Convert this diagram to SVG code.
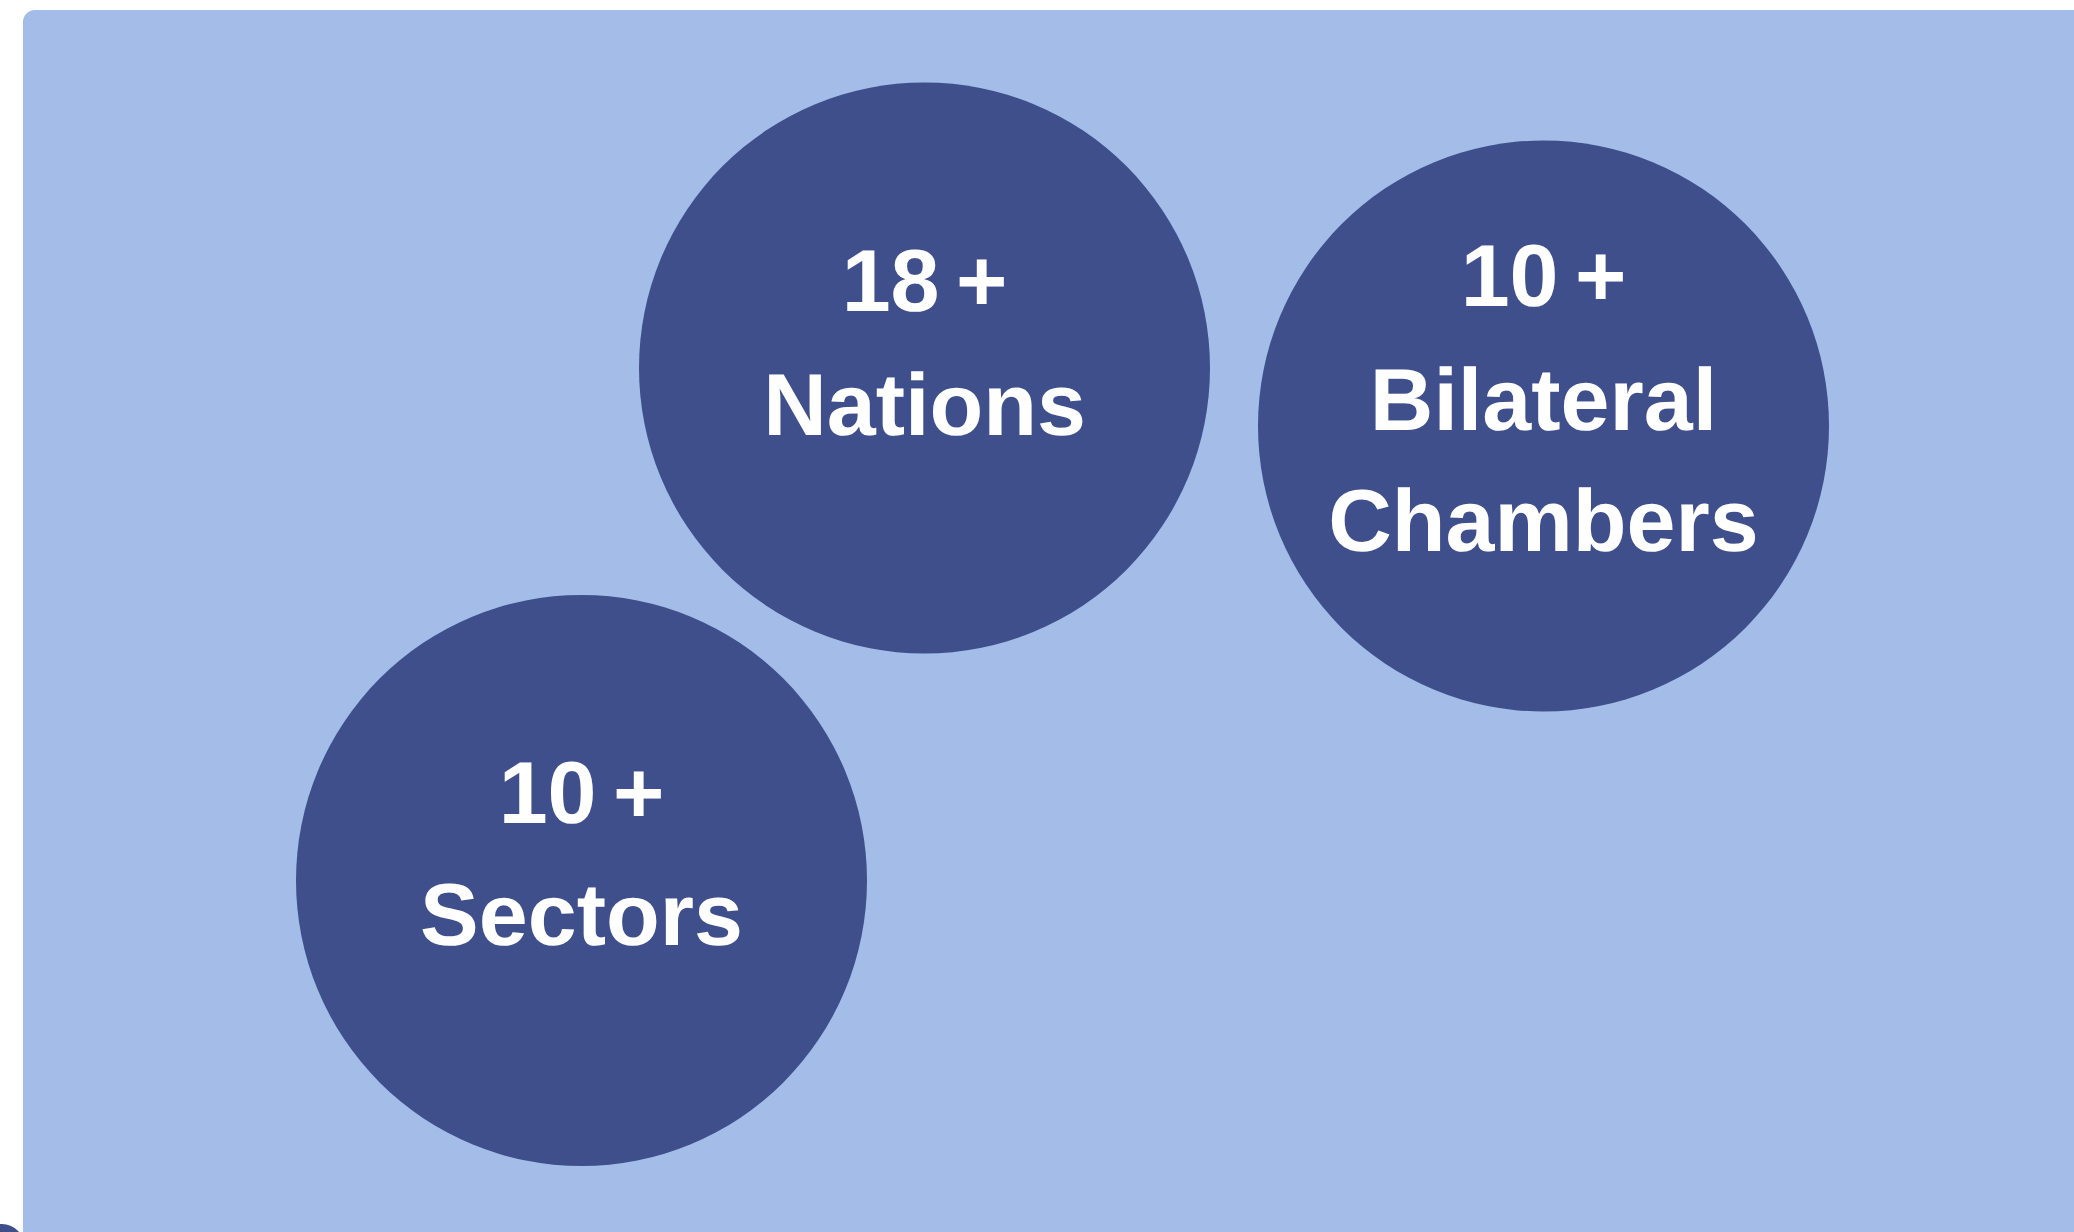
<svg xmlns="http://www.w3.org/2000/svg" width="2074" height="1232" viewBox="0 0 2074 1232">
<style>
.bg{fill:#A3BDE8}
.node{fill:#3F4F8B}
.lbl{fill:#FFFFFF;font-family:"Liberation Sans",Arial,sans-serif;font-weight:bold;font-size:88px;text-anchor:middle;text-rendering:geometricPrecision}
.num{word-spacing:-8px}
</style>
<rect x="0" y="0" width="2074" height="1232" fill="#FFFFFF"/>
<rect class="bg" x="23" y="10" width="2080" height="1240" rx="12" ry="12"/>
<circle class="node" cx="2" cy="1246" r="22"/>
<g id="connectors"></g>
<g id="node-nations">
<circle class="node" cx="924.5" cy="368" r="285.5"/>
<text class="lbl num" x="924.5" y="311">18 +</text>
<text class="lbl" x="924.5" y="435">Nations</text>
</g>
<g id="node-bilateral">
<circle class="node" cx="1543.5" cy="426" r="285.5"/>
<text class="lbl num" x="1543.5" y="306">10 +</text>
<text class="lbl" x="1543.5" y="430">Bilateral</text>
<text class="lbl" x="1543.5" y="551">Chambers</text>
</g>
<g id="node-sectors">
<circle class="node" cx="581.5" cy="880.5" r="285.5"/>
<text class="lbl num" x="581.5" y="823">10 +</text>
<text class="lbl" x="581.5" y="945">Sectors</text>
</g>
</svg>
